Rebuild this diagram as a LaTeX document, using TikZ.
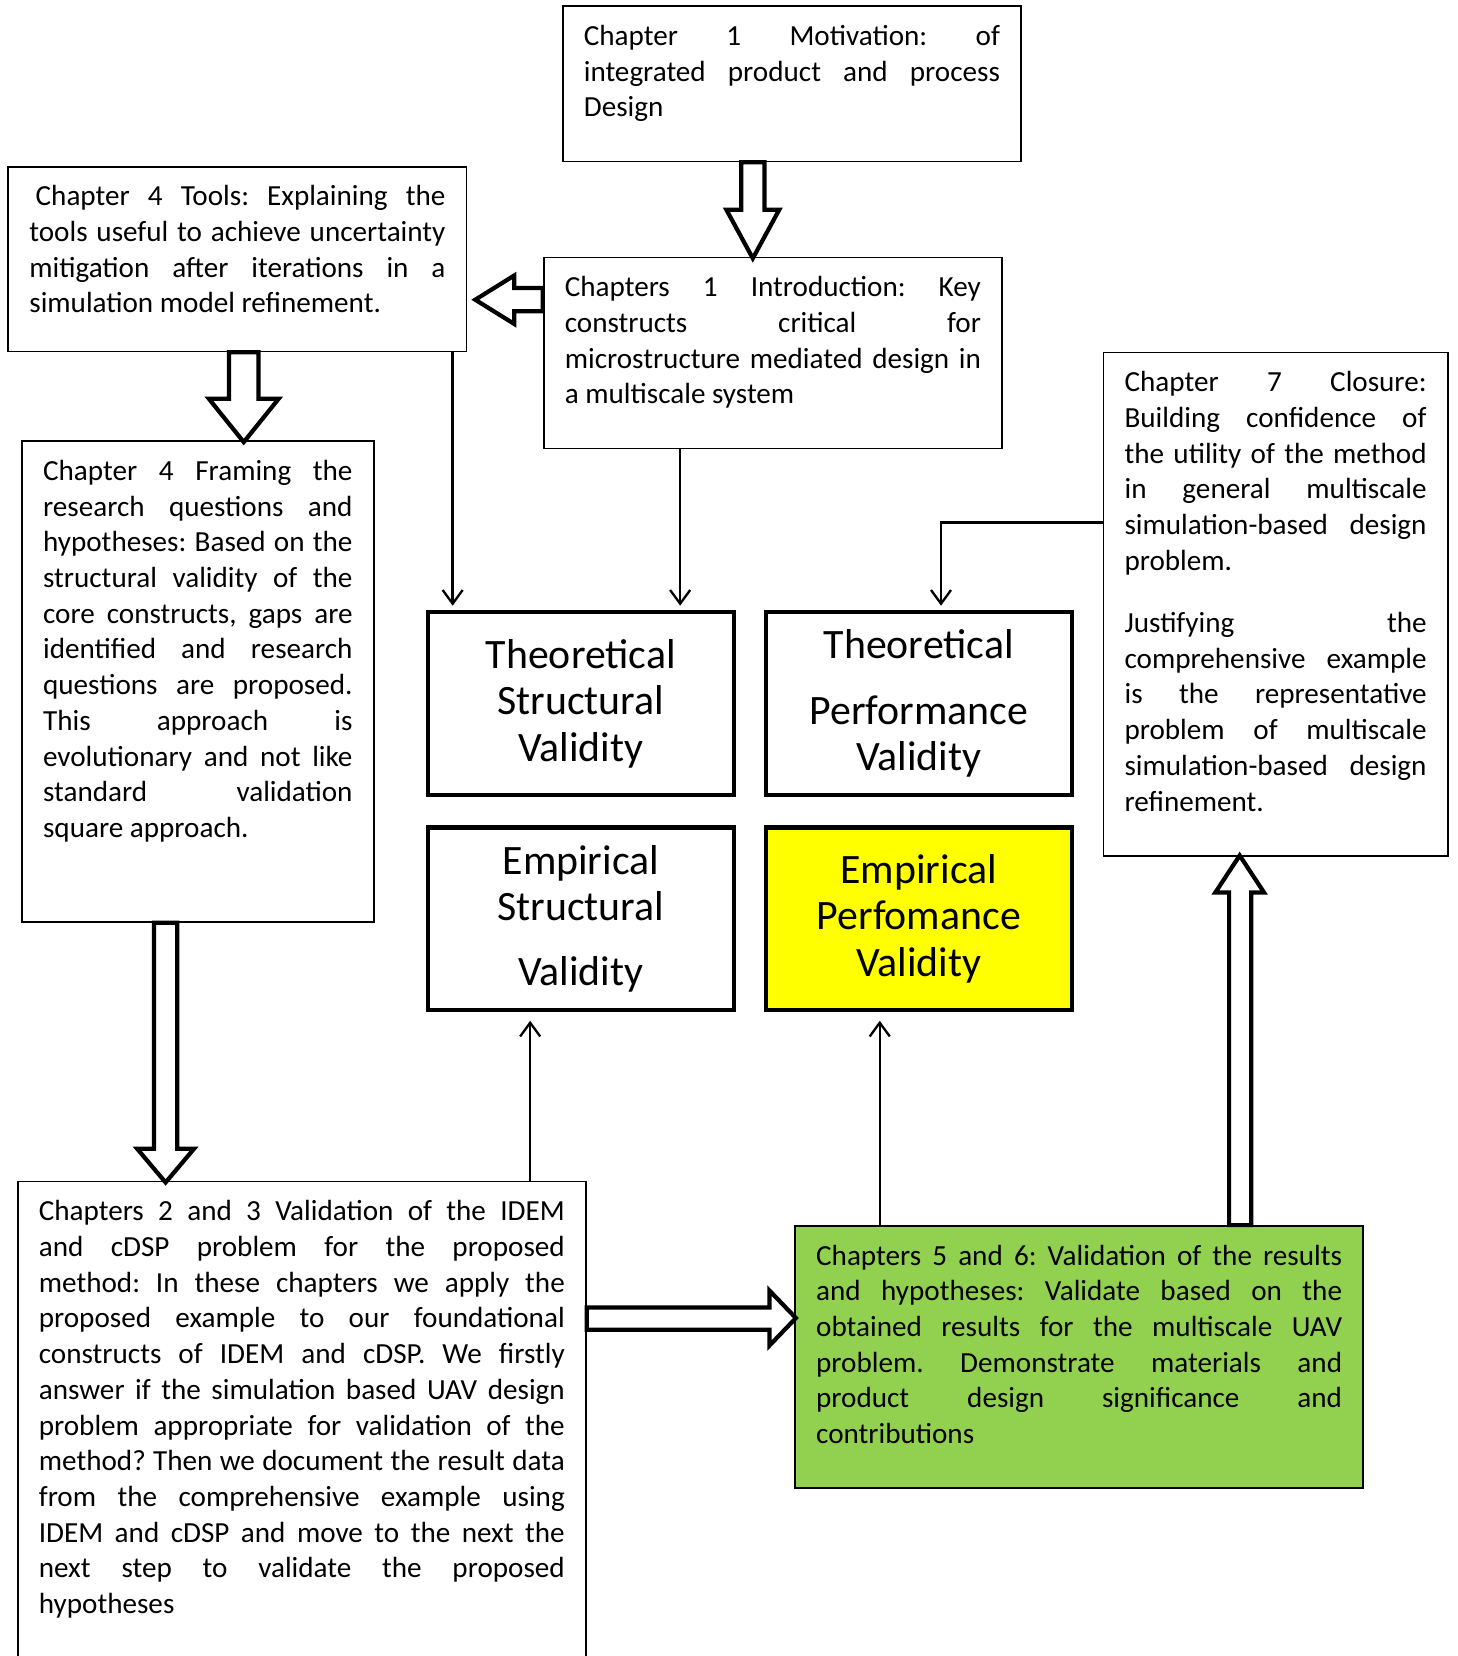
\documentclass[tikz,border=0pt]{standalone}
\usepackage{fontspec}
\setmainfont{Carlito}
\frenchspacing
\usetikzlibrary{arrows.meta, calc}
\definecolor{hilite}{HTML}{FFFF00}
\definecolor{result}{HTML}{92D050}

\begin{document}
\begin{tikzpicture}[
  x=0.5pt, y=-0.5pt,
  chap/.style 2 args={draw, line width=0.8pt, anchor=north west,
                inner xsep=10pt, inner ysep=9pt,
                font=\fontsize{13.8}{16.9}\selectfont,
                execute at begin node={\begin{minipage}[t][#2][t]{#1}\hyphenpenalty=10000},
                execute at end node={\end{minipage}}},
  valid/.style={draw, line width=2pt, minimum width=145pt, minimum height=86.5pt,
                align=center, font=\fontsize{19.8}{22}\selectfont},
  arr/.style={-{Straight Barb[length=6.5pt, width=9.5pt]}, line width=1.1pt},
  blk/.style={draw, line width=2pt, fill=white, line join=miter}
]
  \useasboundingbox (0,0) rectangle (1380,1568);

  % Chapter boxes
  \node[chap={197pt}{55.5pt}] (motiv) at (532,5)
    {Chapter 1 Motivation: of\linebreak integrated product and process\linebreak Design};
  \node[chap={197pt}{69.5pt}] (tools) at (7,157)
    {\hspace*{3pt}Chapter 4 Tools: Explaining the\linebreak tools useful to achieve uncertainty\linebreak
     mitigation after iterations in a\linebreak simulation model refinement.};
  \node[chap={197pt}{72.5pt}] (intro) at (514,243)
    {Chapters 1 Introduction: Key\linebreak constructs critical for\linebreak
     microstructure mediated design in\linebreak a multiscale system};
  \node[chap={146.5pt}{209.5pt}] (quest) at (20,417)
    {Chapter 4 Framing the\linebreak research questions and\linebreak hypotheses: Based on the\linebreak
     structural validity of the\linebreak core constructs, gaps are\linebreak identified and research\linebreak
     questions are proposed.\linebreak This approach is\linebreak evolutionary and not like\linebreak
     standard validation\linebreak square approach.};
  \node[chap={143pt}{220.5pt}] (closure) at (1044,333)
    {Chapter 7 Closure:\linebreak Building confidence of\linebreak the utility of the method\linebreak
     in general multiscale\linebreak simulation-based design\linebreak problem.\par\vspace{12.6pt}
     Justifying the\linebreak comprehensive example\linebreak is the representative\linebreak
     problem of multiscale\linebreak simulation-based design\linebreak refinement.};
  \node[chap={249pt}{218pt}] (method) at (16,1118)
    {Chapters 2 and 3 Validation of the IDEM\linebreak and cDSP problem for the proposed\linebreak
     method: In these chapters we apply the\linebreak proposed example to our foundational\linebreak
     constructs of IDEM and cDSP. We firstly\linebreak answer if the simulation based UAV design\linebreak
     problem appropriate for validation of the\linebreak method? Then we document the result data\linebreak
     from the comprehensive example using\linebreak IDEM and cDSP and move to the next the\linebreak
     next step to validate the proposed\linebreak hypotheses};
  \node[chap={249pt}{106pt}, fill=result] (results) at (752,1160)
    {Chapters 5 and 6: Validation of the results\linebreak and hypotheses: Validate based on the\linebreak
     obtained results for the multiscale UAV\linebreak problem. Demonstrate materials and\linebreak
     product design significance and\linebreak contributions};

  % Validity square
  \node[valid] (tsv) at (550,666) {Theoretical\\Structural\\Validity};
  \node[valid] (tpv) at (870,666) {Theoretical\\[9pt]Performance\\Validity};
  \node[valid] (esv) at (550,870) {Empirical\\Structural\\[9pt]Validity};
  \node[valid, fill=hilite] (epv) at (870,870) {Empirical\\Perfomance\\Validity};

  % Block arrows
  \draw[blk] ($(motiv.south)+(-48,0)$) -- ++(0,45) -- ++(-14,0) -- ++(25,46)
    -- ++(25,-46) -- ++(-14,0) -- ++(0,-45) -- cycle;
  \draw[blk] ($(intro.west)+(0,-61.5)$) -- ++(-27,0) -- ++(0,-12) -- ++(-37,23)
    -- ++(37,23) -- ++(0,-12) -- ++(27,0) -- cycle;
  \draw[blk] ($(tools.south)+(-8,0)$) -- ++(0,44) -- ++(-19,0) -- ++(33,41)
    -- ++(33,-41) -- ++(-19,0) -- ++(0,-44) -- cycle;
  \draw[blk] ($(quest.south)+(-41.5,0)$) -- ++(0,214) -- ++(-16,0) -- ++(27,32)
    -- ++(27,-32) -- ++(-16,0) -- ++(0,-214) -- cycle;
  \draw[blk] ($(method.north east)+(0,120)$) -- ++(173,0) -- ++(0,-16) -- ++(25,26)
    -- ++(-25,26) -- ++(0,-15) -- ++(-173,0) -- cycle;
  \draw[blk] ($(results.north)+(142,0)$) -- ++(0,-315) -- ++(-13,0) -- ++(23,-35)
    -- ++(23,35) -- ++(-12,0) -- ++(0,315) -- cycle;

  % Thin arrows
  \draw[arr, shorten >=2pt] ($(tools.south east)+(-14,0)$) coordinate (a1) -- (a1 |- tsv.north);
  \draw[arr, shorten >=2pt] ($(intro.south west)+(130,0)$) coordinate (a2) -- (a2 |- tsv.north);
  \draw[arr, shorten >=2pt] ($(closure.west)+(0,-77.5)$) -| ($(tpv.north)+(21,0)$);
  \draw[arr, shorten >=4pt] ($(method.north west)+(486,0)$) coordinate (a4) -- (a4 |- esv.south);
  \draw[arr, shorten >=4pt] ($(results.north west)+(81,0)$) coordinate (a5) -- (a5 |- epv.south);
\end{tikzpicture}
\end{document}
